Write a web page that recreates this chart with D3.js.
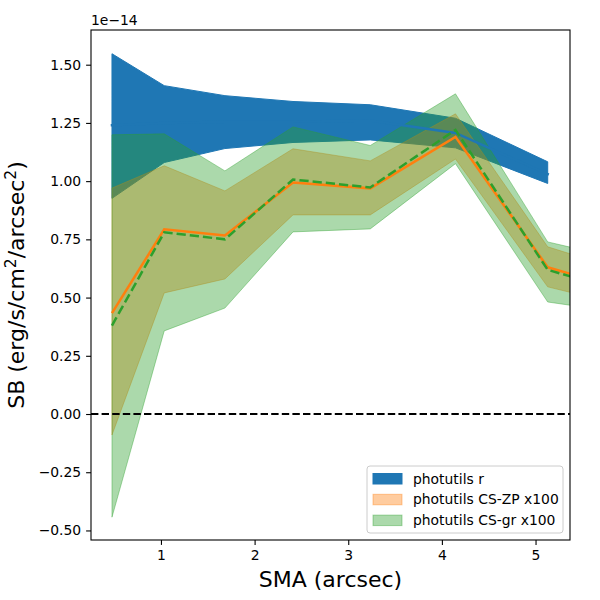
<!DOCTYPE html>
<html>
<head>
<meta charset="utf-8">
<script src="https://cdn.jsdelivr.net/npm/d3@7"></script>
<style>
  body { margin: 0; background: #fff; }
  text { font-family: "DejaVu Sans", sans-serif; }
</style>
</head>
<body>
<div id="chart"></div>
<script>
// data (SB in units of 1e-14)
const smaR = [0.477, 1.035, 1.683, 2.41, 3.235, 4.145, 5.13];
const rMid = [1.24, 1.25, 1.255, 1.255, 1.26, 1.207, 1.03];
const rLow = [0.926, 1.08, 1.14, 1.166, 1.177, 1.143, 0.99];
const rHigh = [1.547, 1.41, 1.367, 1.342, 1.328, 1.27, 1.083];

const smaCS = [0.477, 1.035, 1.683, 2.41, 3.235, 4.145, 5.13, 6.2];
const zpMid = [0.433, 0.793, 0.767, 0.994, 0.969, 1.19, 0.63, 0.506];
const zpLow = [-0.09, 0.52, 0.58, 0.855, 0.855, 1.095, 0.546, 0.441];
const zpHigh = [0.97, 1.066, 0.958, 1.139, 1.087, 1.289, 0.718, 0.584];
const grMid = [0.38, 0.78, 0.75, 1.007, 0.973, 1.22, 0.619, 0.495];
const grLow = [-0.443, 0.357, 0.455, 0.782, 0.795, 1.075, 0.481, 0.419];
const grHigh = [1.199, 1.203, 1.044, 1.233, 1.153, 1.375, 0.739, 0.639];

const xTicks = [1, 2, 3, 4, 5];
const yTicks = [-0.5, -0.25, 0, 0.25, 0.5, 0.75, 1.0, 1.25, 1.5];
const legendLabels = ["photutils r", "photutils CS-ZP x100", "photutils CS-gr x100"];

const width = 600;
const height = 600;
const padLeft = 91, padRight = 570, padTop = 30, padBottom = 540;

const blue = "#1f77b4", orange = "#ff7f0e", green = "#2ca02c";

let svg = d3.select("#chart").append("svg")
    .attr("width", width)
    .attr("height", height);

let x = d3.scaleLinear().domain([0.253, 5.368]).range([padLeft, padRight]);
let y = d3.scaleLinear().domain([-0.541, 1.649]).range([padBottom, padTop]);

svg.append("clipPath").attr("id", "clip")
    .append("rect")
    .attr("x", padLeft).attr("y", padTop)
    .attr("width", padRight - padLeft).attr("height", padBottom - padTop);

let plot = svg.append("g").attr("clip-path", "url(#clip)");

function band(xs, lo, hi) {
    return d3.area()
        .x((d, i) => x(xs[i]))
        .y0((d, i) => y(lo[i]))
        .y1((d, i) => y(hi[i]))(xs);
}
function line(xs, ys) {
    return d3.line()
        .x((d, i) => x(xs[i]))
        .y((d, i) => y(ys[i]))(xs);
}

// bands
plot.append("path")
    .attr("d", band(smaR, rLow, rHigh))
    .attr("fill", blue)
    .attr("stroke", blue)
    .attr("stroke-width", 1);

plot.append("path")
    .attr("d", band(smaCS, zpLow, zpHigh))
    .attr("fill", orange)
    .attr("fill-opacity", 0.4)
    .attr("stroke", orange)
    .attr("stroke-opacity", 0.4)
    .attr("stroke-width", 1);

plot.append("path")
    .attr("d", band(smaCS, grLow, grHigh))
    .attr("fill", green)
    .attr("fill-opacity", 0.4)
    .attr("stroke", green)
    .attr("stroke-opacity", 0.4)
    .attr("stroke-width", 1);

// lines
plot.append("path")
    .attr("d", line(smaR, rMid))
    .attr("fill", "none")
    .attr("stroke", blue)
    .attr("stroke-width", 2.5)
    .attr("stroke-linecap", "square");

plot.append("path")
    .attr("d", line(smaCS, zpMid))
    .attr("fill", "none")
    .attr("stroke", orange)
    .attr("stroke-width", 2.5);

plot.append("path")
    .attr("d", line(smaCS, grMid))
    .attr("fill", "none")
    .attr("stroke", green)
    .attr("stroke-width", 2.5)
    .attr("stroke-dasharray", "9.25 4");

// zero line
plot.append("line")
    .attr("x1", padLeft).attr("x2", padRight)
    .attr("y1", y(0)).attr("y2", y(0))
    .attr("stroke", "black")
    .attr("stroke-width", 2)
    .attr("stroke-dasharray", "7.4 3.2");

// axes
let xAxis = svg.append("g")
    .attr("transform", `translate(0,${padBottom})`)
    .call(d3.axisBottom(x).tickValues(xTicks).tickSize(4.9).tickPadding(4.9).tickFormat(d3.format("d")));

let yAxis = svg.append("g")
    .attr("transform", `translate(${padLeft},0)`)
    .call(d3.axisLeft(y).tickValues(yTicks).tickSize(4.9).tickPadding(4.9)
        .tickFormat(d => d3.format(".2f")(d).replace("-", "\u2212")));

[xAxis, yAxis].forEach(a => {
    a.select(".domain").remove();
    a.selectAll(".tick line").attr("stroke", "black").attr("stroke-width", 1.1);
    a.selectAll(".tick text").attr("fill", "black").style("font-size", "13.9px");
});

svg.append("rect")
    .attr("x", padLeft).attr("y", padTop)
    .attr("width", padRight - padLeft).attr("height", padBottom - padTop)
    .attr("fill", "none")
    .attr("stroke", "black")
    .attr("stroke-width", 1.1);

// offset text
svg.append("text")
    .attr("x", padLeft).attr("y", 25)
    .style("font-size", "13.9px")
    .text("1e\u221214");

// axis labels
svg.append("text")
    .attr("x", (padLeft + padRight) / 2).attr("y", 587)
    .attr("text-anchor", "middle")
    .style("font-size", "22px")
    .text("SMA (arcsec)");

let yLab = svg.append("text")
    .attr("text-anchor", "middle")
    .attr("transform", `translate(24,${(padTop + padBottom) / 2}) rotate(-90)`)
    .style("font-size", "22px");
yLab.append("tspan").text("SB (erg/s/cm");
yLab.append("tspan").attr("dy", -8).style("font-size", "15.5px").text("2");
yLab.append("tspan").attr("dy", 8).text("/arcsec");
yLab.append("tspan").attr("dy", -8).style("font-size", "15.5px").text("2");
yLab.append("tspan").attr("dy", 8).text(")");

// legend
let legend = svg.append("g").attr("transform", "translate(367,466)");
legend.append("rect")
    .attr("width", 196).attr("height", 67)
    .attr("rx", 3)
    .attr("fill", "white").attr("fill-opacity", 0.8)
    .attr("stroke", "#cccccc");

const legendColors = [blue, orange, green];
const legendAlpha = [1, 0.4, 0.4];
legendLabels.forEach((lab, i) => {
    legend.append("rect")
        .attr("x", 6).attr("y", 7.5 + i * 20.8)
        .attr("width", 29).attr("height", 10.5)
        .attr("fill", legendColors[i]).attr("fill-opacity", legendAlpha[i])
        .attr("stroke", legendColors[i]).attr("stroke-opacity", legendAlpha[i]);
    legend.append("text")
        .attr("x", 46).attr("y", 17.5 + i * 20.8)
        .style("font-size", "13.9px")
        .text(lab);
});
</script>
</body>
</html>
